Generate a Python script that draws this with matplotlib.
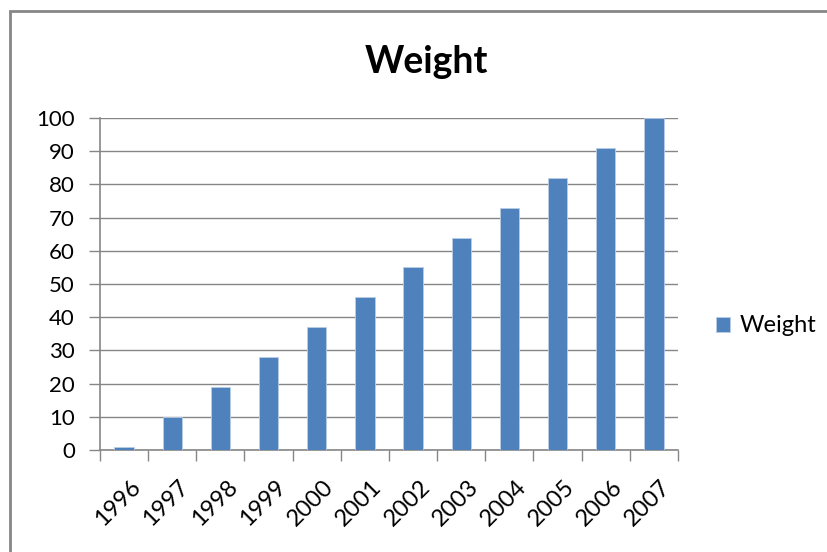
import numpy as np
import matplotlib.pyplot as plt
import matplotlib.transforms as mtransforms
from matplotlib.patches import Rectangle

years = ['1996', '1997', '1998', '1999', '2000', '2001',
         '2002', '2003', '2004', '2005', '2006', '2007']
weight = [1, 10, 19, 28, 37, 46, 55, 64, 73, 82, 91, 100]

plt.rcParams['font.family'] = ['Lato', 'DejaVu Sans']

fig = plt.figure(figsize=(8.28, 5.52), dpi=100)
W, H = 828, 552
ax = fig.add_axes([100 / W, 1 - 450 / H, 578 / W, 332 / H])

# outer frame like the spreadsheet chart area
fig.patches.append(Rectangle((10 / W, -0.05), 1.2, 1 - 11 / H + 0.05,
                             transform=fig.transFigure, fill=False,
                             edgecolor='#868686', linewidth=2))

x = np.arange(len(years))
ax.bar(x, weight, width=0.4, color='#4F81BD', edgecolor='#B9CDE5',
       linewidth=0.6, label='Weight', zorder=3)

ax.set_xlim(-0.5, len(years) - 0.5)
ax.set_ylim(0, 100)
ax.set_yticks(range(0, 101, 10))
ax.yaxis.grid(True, color='#868686', linewidth=1, zorder=0)
ax.tick_params(axis='y', length=8, width=1, color='#868686', labelsize=16, pad=10)

ax.set_xticks(x)
ax.set_xticklabels(years, rotation=45, ha='right', rotation_mode='anchor', fontsize=17)
ax.tick_params(axis='x', length=0, pad=19)
ax.set_xticks(np.arange(-0.5, len(years)), minor=True)
ax.tick_params(axis='x', which='minor', length=8, width=1, color='#868686')
shift = mtransforms.ScaledTranslation(6 / 100, 0, fig.dpi_scale_trans)
for lab in ax.get_xticklabels():
    lab.set_transform(lab.get_transform() + shift)

for s in ['top', 'right']:
    ax.spines[s].set_visible(False)
for s in ['left', 'bottom']:
    ax.spines[s].set_color('#868686')
    ax.spines[s].set_linewidth(1.2)

fig.text(426 / W, 1 - 62 / H, 'Weight', ha='center', va='center',
         fontsize=27, fontweight='bold')

ax.legend(loc='center left', bbox_to_anchor=(695 / W, 1 - 326 / H),
          bbox_transform=fig.transFigure, frameon=False, fontsize=17,
          handlelength=0.6, handleheight=0.6, handletextpad=0.4)

fig.savefig('out.png', dpi=100)
